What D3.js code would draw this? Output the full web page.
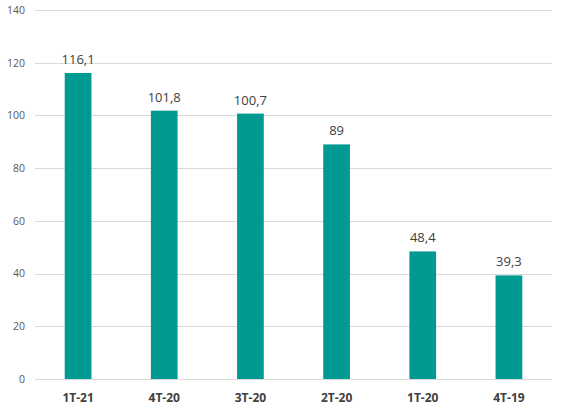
<!DOCTYPE html>
<html><head><meta charset="utf-8">
<script src="https://cdn.jsdelivr.net/npm/d3@7"></script>
<style>body{margin:0;background:#fff}svg{display:block}</style>
</head><body>
<script>
const categories = ["1T-21","4T-20","3T-20","2T-20","1T-20","4T-19"];
const values = [116.1, 101.8, 100.7, 89, 48.4, 39.3];
const labels = ["116,1","101,8","100,7","89","48,4","39,3"];
const yTicks = [0,20,40,60,80,100,120,140];

const W = 563, H = 411;
const svg = d3.select("body").append("svg").attr("width", W).attr("height", H);
const x = d3.scaleBand().domain(categories).range([35, 552]).paddingInner(0.69).paddingOuter(0.345);
const y = d3.scaleLinear().domain([0, 140]).range([379, 10]);

const font = "'Open Sans', 'Liberation Sans', sans-serif";
svg.append("g").selectAll("line").data(yTicks).join("line")
  .attr("x1", 35).attr("x2", 552)
  .attr("y1", d => Math.round(y(d)) + 0.5).attr("y2", d => Math.round(y(d)) + 0.5)
  .attr("stroke", "#d9d9d9").attr("stroke-width", 1);

const yAxis = d3.axisLeft(y).tickValues(yTicks).tickSize(0).tickPadding(0);
const ga = svg.append("g").attr("transform", "translate(25,0)").call(yAxis);
ga.select(".domain").remove();
ga.selectAll("text").attr("font-family", font).attr("font-size", 10.5).attr("fill", "#595959");

svg.append("g").selectAll("rect").data(values).join("rect")
  .attr("x", (d, i) => x(categories[i])).attr("width", x.bandwidth())
  .attr("y", d => y(d)).attr("height", d => y(0) - y(d))
  .attr("fill", "#009a93");

svg.append("g").selectAll("text").data(values).join("text")
  .attr("x", (d, i) => x(categories[i]) + x.bandwidth() / 2)
  .attr("y", d => y(d) - 9)
  .attr("text-anchor", "middle").attr("font-family", font).attr("font-size", 13).attr("fill", "#404040")
  .text((d, i) => labels[i]);

const xAxis = d3.axisBottom(x).tickSize(0).tickPadding(0);
const gx = svg.append("g").attr("transform", "translate(0,402)").call(xAxis);
gx.select(".domain").remove();
gx.selectAll("text").attr("dy", 0).attr("font-family", font).attr("font-size", 12).attr("font-weight", "bold").attr("fill", "#404040");
</script>
</body></html>
